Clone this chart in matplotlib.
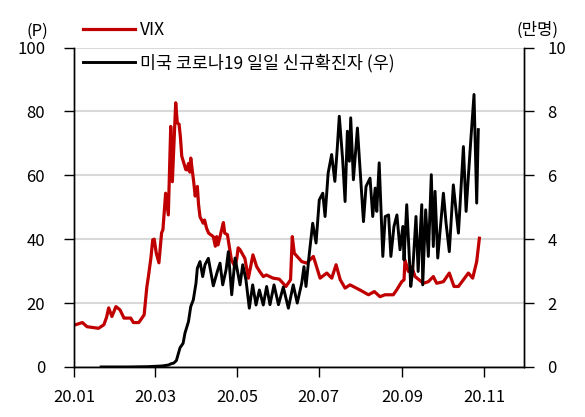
import matplotlib
matplotlib.use("Agg")
import matplotlib.pyplot as plt
import pandas as pd
import numpy as np

plt.rcParams['font.family'] = ['Noto Sans CJK KR', 'DejaVu Sans']

# ---- data (days since 2020-01-01) ----
vix_days = [0.7, 3, 6, 9.5, 13, 18, 22, 24, 25.6, 28, 31, 34, 37, 42, 44, 48, 52, 54, 55,
            57, 58.4, 59.5, 61, 63, 65, 66, 68, 70, 71.8, 73, 75.5, 76.7, 78, 79, 80, 83, 84,
            85, 86, 86.7, 89, 90, 91.6, 92.5, 93.6, 96, 97, 98.5, 100, 103.5, 105, 106, 107,
            108.5, 110, 111, 112, 114, 117, 119.6, 121, 122, 123.4, 127, 129.6, 133, 135.8,
            138, 140.7, 143, 148, 152.6, 157.6, 161, 162.3, 163.8, 169.3, 173, 178, 183, 188,
            191.7, 194.9, 198, 201.6, 205.3, 212.7, 219, 223.4, 227.6, 231.3, 237.5, 240,
            243.8, 245.5, 246.2, 248.7, 251.2, 253.7, 259.9, 263.6, 267.3, 269.8, 274.8,
            279.2, 282.7, 286, 289.7, 293.4, 296.6, 299.6, 301.6]
vix_values = [13.2, 13.5, 13.9, 12.6, 12.4, 12.1, 13.2, 15.5, 18.5, 15.8, 18.9, 17.9, 15.3,
              15.3, 13.9, 13.9, 16.3, 25.0, 27.8, 34.0, 39.8, 40.0, 35.7, 32.6, 42.0, 43.0,
              54.4, 47.6, 75.3, 58.0, 82.7, 76.4, 76.0, 72.0, 66.0, 61.8, 61.7, 63.7, 61.0,
              65.4, 57.6, 53.5, 56.5, 50.9, 47.0, 45.0, 46.0, 43.4, 41.9, 40.8, 37.8, 40.8,
              38.2, 40.8, 43.5, 45.2, 41.9, 41.4, 33.5, 31.4, 34.0, 37.3, 36.7, 34.0, 27.8,
              35.1, 31.4, 29.9, 28.3, 28.8, 27.8, 27.5, 25.2, 27.3, 40.8, 35.6, 33.0, 32.5,
              34.6, 27.8, 29.4, 27.8, 32.0, 27.3, 24.7, 25.7, 24.1, 22.6, 23.6, 22.0, 22.6,
              22.6, 24.1, 26.7, 27.3, 33.5, 29.9, 31.4, 28.3, 26.2, 26.7, 28.3, 26.2, 26.7,
              29.4, 25.2, 25.2, 27.3, 29.4, 27.8, 33.0, 40.3]

case_days = [20, 40, 55, 65, 70, 72, 74, 76, 78.7, 81, 82.4, 85, 86.7, 88.6, 90.6, 91.6,
             93.6, 95.6, 97.3, 99.8, 103.5, 106.5, 108.5, 110.5, 113, 114.7, 117.2, 119.7,
             123.4, 125.4, 127.8, 130.3, 132.8, 135.3, 137.8, 140.7, 143.2, 145.7, 148.7,
             152, 155.6, 159.4, 163, 166, 169.3, 171, 172.5, 175, 177.5, 180, 182.4, 185,
             186.7, 189, 191.6, 194, 195.8, 197.3, 199.8, 201.6, 203.3, 204.8, 205.8, 207.8,
             210.8, 212.3, 215.3, 217.2, 220.2, 222.2, 224, 225.2, 227, 229.7, 231.5, 234,
             235.7, 238, 240.2, 242.5, 244.6, 245.5, 247.5, 250.5, 252, 254.4, 256, 258.7,
             259.4, 261.6, 263.6, 265.8, 267.3, 268.6, 270.6, 272.3, 274.8, 276.8, 279.2,
             282.2, 286, 289.7, 291.7, 293.4, 295.4, 297.6, 299.6, 300.8]
case_values = [0.0, 0.0, 0.01, 0.03, 0.06, 0.1, 0.12, 0.2, 0.6, 0.74, 1.06, 1.42, 1.89, 2.1,
               2.62, 3.09, 3.3, 2.83, 3.2, 3.4, 2.54, 2.99, 3.25, 2.57, 3.04, 3.61, 2.26,
               3.41, 2.57, 3.2, 2.73, 1.84, 2.57, 1.94, 2.41, 1.94, 2.52, 1.95, 2.57, 1.95,
               2.5, 1.84, 2.57, 2.0, 2.62, 3.14, 2.52, 3.56, 4.5, 3.88, 5.23, 5.44, 4.71,
               6.07, 6.65, 5.81, 6.86, 7.85, 6.49, 5.18, 7.38, 6.44, 7.8, 5.86, 7.48, 6.49,
               4.55, 5.65, 5.91, 4.71, 5.6, 4.87, 6.39, 3.46, 4.71, 4.76, 3.46, 4.4, 4.76,
               3.67, 4.4, 3.35, 5.08, 2.52, 3.04, 4.71, 2.99, 5.08, 2.57, 4.92, 3.46, 6.02,
               3.77, 5.5, 3.41, 4.24, 5.44, 4.5, 3.61, 5.7, 4.19, 6.9, 4.87, 5.97, 7.22,
               8.53, 5.13, 7.43]

tick_dates = ['2020-01-01', '2020-03-01', '2020-05-01', '2020-07-01', '2020-09-01', '2020-11-01']
tick_labels = ['20.01', '20.03', '20.05', '20.07', '20.09', '20.11']
left_ticks = [0, 20, 40, 60, 80, 100]
right_ticks = [0, 2, 4, 6, 8, 10]

start = pd.Timestamp('2020-01-01')
vix_x = start + pd.to_timedelta(vix_days, unit='D')
case_x = start + pd.to_timedelta(case_days, unit='D')

fig = plt.figure(figsize=(5.85, 4.17), dpi=100)
ax = fig.add_axes([0.127, 0.120, 0.768, 0.766])
ax2 = ax.twinx()

red = '#C00000'
l1, = ax.plot(vix_x, vix_values, color=red, lw=2.3, label='VIX', solid_joinstyle='round')
l2, = ax2.plot(case_x, case_values, color='black', lw=2.1, label='미국 코로나19 일일 신규확진자 (우)',
               solid_joinstyle='round')

ax.set_xlim(start, start + pd.Timedelta(days=334.5))
ax.set_ylim(0, 100)
ax2.set_ylim(0, 10)
ax.set_yticks(left_ticks)
ax2.set_yticks(right_ticks)
ax.set_xticks(pd.to_datetime(tick_dates))
ax.set_xticklabels(tick_labels)

ax.yaxis.grid(True, color='#d9d9d9', lw=1.5)
ax.set_axisbelow(True)

for a in (ax, ax2):
    a.spines['top'].set_visible(False)
    for s in ('left', 'right', 'bottom'):
        a.spines[s].set_color('black')
        a.spines[s].set_linewidth(1.0)

ax.tick_params(axis='y', direction='out', length=7, width=1, pad=14, labelsize=12)
ax2.tick_params(axis='y', direction='out', length=7, width=1, pad=10, labelsize=12)
ax.tick_params(axis='x', direction='out', length=7, width=1, pad=9, labelsize=12)

leg = ax.legend(handles=[l1, l2], loc='upper left', bbox_to_anchor=(83 / 585, 1 - 21 / 417),
                bbox_transform=fig.transFigure, frameon=False, fontsize=12.5,
                handlelength=3.0, handletextpad=0.3, labelspacing=0.84,
                borderpad=0, borderaxespad=0)
leg.set_zorder(10)

fig.text(37 / 585, 1 - 31.7 / 417, '(P)', ha='center', va='center', fontsize=12)
fig.text(538 / 585, 1 - 30.7 / 417, '(만명)', ha='center', va='center', fontsize=12)

fig.savefig('out.png', dpi=100)
